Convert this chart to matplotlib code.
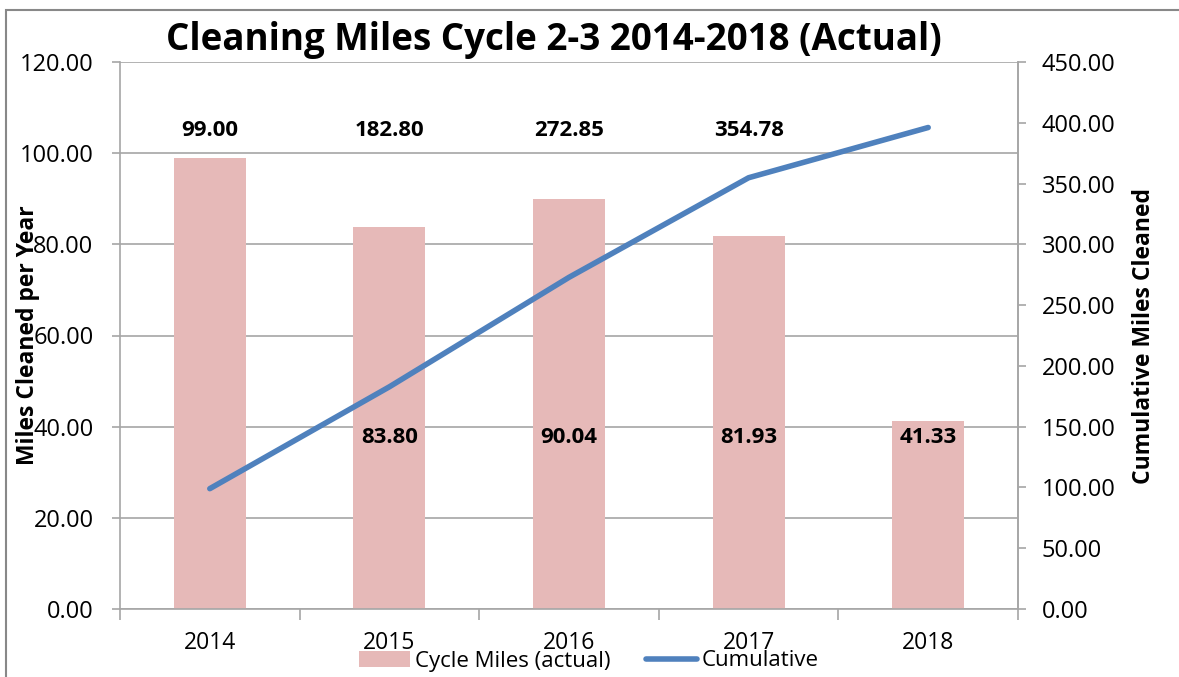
import matplotlib.pyplot as plt
from matplotlib.patches import Rectangle
from matplotlib.ticker import MultipleLocator, FixedLocator

plt.rcParams['font.family'] = ['Open Sans', 'DejaVu Sans']

years = ['2014', '2015', '2016', '2017', '2018']
cycle_miles = [99.00, 83.80, 90.04, 81.93, 41.33]
cumulative = [99.00, 182.80, 272.85, 354.78, 396.11]

# etiquetas tal como aparecen en el grafico original
top_labels = ['99.00', '182.80', '272.85', '354.78']
bottom_labels = ['83.80', '90.04', '81.93', '41.33']

bar_color = '#E6B9B8'
line_color = '#4F81BD'
grid_color = '#A6A6A6'

fig = plt.figure(figsize=(11.79, 6.77), dpi=100)
ax1 = fig.add_axes([120 / 1179, 1 - 609 / 677, (1018 - 120) / 1179, (609 - 62) / 677])

# borde gris alrededor del grafico
fig.patches.append(Rectangle((6 / 1179, -0.05), 1.2, 1 - 10 / 677 + 0.05,
                             transform=fig.transFigure, fill=False,
                             edgecolor='#888888', linewidth=1.5))

x = list(range(len(years)))
bars = ax1.bar(x, cycle_miles, width=0.4, color=bar_color, label='Cycle Miles (actual)', zorder=2)
ax1.set_xlim(-0.5, len(years) - 0.5)
ax1.set_ylim(0, 120)
ax1.yaxis.set_major_locator(MultipleLocator(20))
ax1.yaxis.set_major_formatter(lambda v, p: f'{v:.2f}')
ax1.grid(axis='y', color=grid_color, linewidth=1.2, zorder=0)
ax1.set_axisbelow(True)

ax1.set_xticks(x)
ax1.set_xticklabels(years, fontsize=16.5)
ax1.tick_params(axis='x', length=0, pad=16)
ax1.xaxis.set_minor_locator(FixedLocator([i - 0.5 for i in range(len(years) + 1)]))
ax1.tick_params(axis='x', which='minor', length=8, color=grid_color, width=1.2)
ax1.tick_params(axis='y', labelsize=17, length=6, color=grid_color, width=1.2, pad=13)

ax1.spines['top'].set_visible(False)
for side in ['left', 'bottom', 'right']:
    ax1.spines[side].set_color(grid_color)
    ax1.spines[side].set_linewidth(1.2)

ax1.set_ylabel('Miles Cleaned per Year', fontsize=16.5, fontweight='bold', va='center')
ax1.yaxis.set_label_coords(-0.103, 0.5)

ax2 = ax1.twinx()
line = ax2.plot(x, cumulative, color=line_color, linewidth=4, solid_capstyle='round', label='Cumulative', zorder=3)
ax2.set_ylim(0, 450)
ax2.yaxis.set_major_locator(MultipleLocator(50))
ax2.yaxis.set_major_formatter(lambda v, p: f'{v:.2f}')
ax2.tick_params(axis='y', labelsize=17, length=6, color=grid_color, width=1.2, pad=11)
for side in ['top', 'left', 'bottom']:
    ax2.spines[side].set_visible(False)
ax2.spines['right'].set_color(grid_color)
ax2.spines['right'].set_linewidth(1.2)
ax2.set_ylabel('Cumulative Miles Cleaned', fontsize=16.5, fontweight='bold', va='center')
ax2.yaxis.set_label_coords(1.14, 0.5)

for i, t in enumerate(top_labels):
    ax1.text(x[i], 105.0, t, ha='center', va='center', fontsize=16, fontweight='bold')
for i, t in enumerate(bottom_labels):
    ax1.text(x[i + 1], 37.7, t, ha='center', va='center', fontsize=16, fontweight='bold')

fig.text(554 / 1179, 1 - 40 / 677, 'Cleaning Miles Cycle 2-3 2014-2018 (Actual)',
         ha='center', va='center', fontsize=26.5, fontweight='bold')

handles = [bars, line[0]]
labels = ['Cycle Miles (actual)', 'Cumulative']
fig.legend(handles, labels, loc='center', bbox_to_anchor=(589 / 1179, 1 - 661 / 677),
           ncol=2, frameon=False, fontsize=16, handlelength=2.3, handleheight=0.7,
           handletextpad=0.22, columnspacing=1.6, borderaxespad=0, borderpad=0)

plt.savefig('out.png', dpi=100)
